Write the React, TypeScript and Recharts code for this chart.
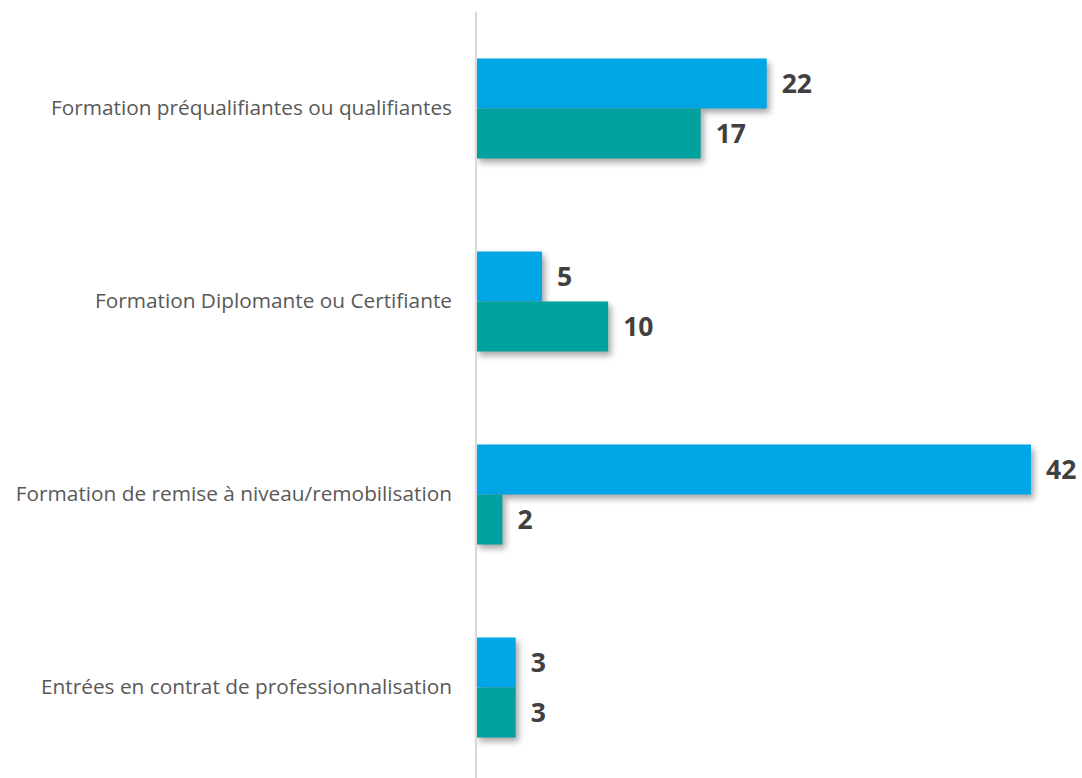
import React from 'react';
import { BarChart, Bar, XAxis, YAxis, LabelList } from 'recharts';

const categories = [
  'Formation préqualifiantes ou qualifiantes',
  'Formation Diplomante ou Certifiante',
  'Formation de remise à niveau/remobilisation',
  'Entrées en contrat de professionnalisation',
];
const seriesA = [22, 5, 42, 3];
const seriesB = [17, 10, 2, 3];

const data = categories.map((c, i) => ({ name: c, a: seriesA[i], b: seriesB[i] }));

const ShadowRect = (props: any) => {
  const { x, y, width, height, fill } = props;
  if (width == null || height == null) return null;
  return (
    <rect
      x={x}
      y={y}
      width={Math.max(0, width)}
      height={height}
      fill={fill}
      style={{ filter: 'drop-shadow(3px 4px 3px rgba(0,0,0,0.35))' }}
    />
  );
};

const labelStyle = { fill: '#404040', fontSize: 26.5, fontWeight: 700, fontFamily: 'Open Sans' };

export default function App() {
  return (
    <div style={{ position: 'absolute', top: 0, left: 0, width: 1082, height: 778, overflow: 'hidden', background: '#fff' }}>
      <BarChart
        width={1082}
        height={790}
        data={data}
        layout="vertical"
        margin={{ top: 11.5, right: 51, bottom: 6.5, left: 0 }}
        barGap={0}
        barSize={50}
      >
        <XAxis type="number" domain={[0, 42]} hide />
        <YAxis
          type="category"
          dataKey="name"
          width={476}
          tickLine={false}
          tickSize={0}
          tickMargin={24}
          axisLine={{ stroke: '#d9d9d9', strokeWidth: 2 }}
          tick={{ fill: '#595959', fontSize: 20.8, fontFamily: 'Open Sans' }}
        />
        <Bar dataKey="a" fill="#00A6E6" isAnimationActive={false} shape={<ShadowRect />}>
          <LabelList dataKey="a" position="right" offset={15} style={labelStyle} />
        </Bar>
        <Bar dataKey="b" fill="#00A19F" isAnimationActive={false} shape={<ShadowRect />}>
          <LabelList dataKey="b" position="right" offset={15} style={labelStyle} />
        </Bar>
      </BarChart>
    </div>
  );
}
